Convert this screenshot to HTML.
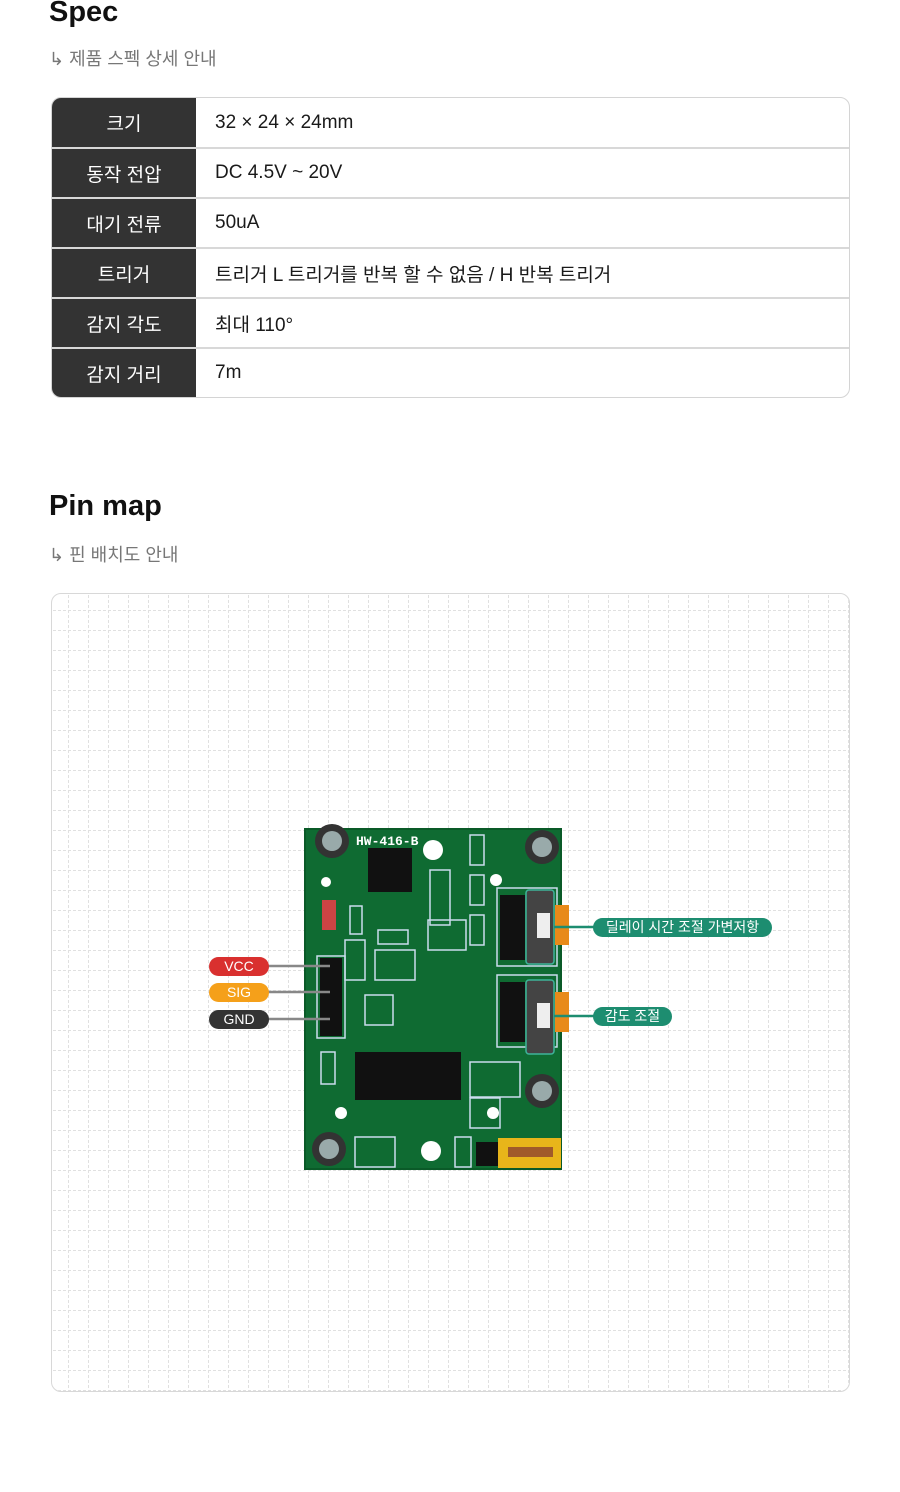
<!DOCTYPE html>
<html><head><meta charset="utf-8"><style>
*{margin:0;padding:0;box-sizing:border-box}
body{width:900px;height:1492px;background:#fff;font-family:"Liberation Sans","Noto Sans CJK KR",sans-serif;position:relative;overflow:hidden;color:#111}
h2{position:absolute;left:49px;font-size:29px;font-weight:700;color:#111}
.sub{position:absolute;left:49px;font-size:18px;color:#777}
table{position:absolute;left:51px;top:97px;width:799px;border-collapse:separate;border-spacing:0;border:1px solid #d4d4d4;border-radius:10px;overflow:hidden}
td{height:50px;font-size:19px;border-top:2px solid #d8d8d8}
tr:first-child td{border-top:none;height:49px}
td.k{width:144px;background:#333;color:#fff;text-align:center}
td.v{padding-left:19px;color:#1a1a1a}
.grid{position:absolute;left:51px;top:593px;width:799px;height:799px;border:1px solid #d8d8d8;border-radius:10px;overflow:hidden}
.pill{position:absolute;height:19px;border-radius:10px;color:#fff;font-size:14px;text-align:center;line-height:19px}
</style></head><body>
<h2 style="top:-4px">Spec</h2>
<div class="sub" style="top:45px">↳ 제품 스펙 상세 안내</div>
<table>
<tr><td class="k">크기</td><td class="v">32 × 24 × 24mm</td></tr>
<tr><td class="k">동작 전압</td><td class="v">DC 4.5V ~ 20V</td></tr>
<tr><td class="k">대기 전류</td><td class="v">50uA</td></tr>
<tr><td class="k">트리거</td><td class="v">트리거 L 트리거를 반복 할 수 없음 / H 반복 트리거</td></tr>
<tr><td class="k">감지 각도</td><td class="v">최대 110°</td></tr>
<tr><td class="k">감지 거리</td><td class="v">7m</td></tr>
</table>
<h2 style="top:490px">Pin map</h2>
<div class="sub" style="top:541px">↳ 핀 배치도 안내</div>
<div class="grid"><svg width="799" height="799">
<defs><pattern id="g" x="16" y="16" width="20" height="20" patternUnits="userSpaceOnUse">
<line x1="0" y1="0.5" x2="20" y2="0.5" stroke="#e0e0e0" stroke-dasharray="3 2"/>
<line x1="0.5" y1="0" x2="0.5" y2="20" stroke="#e0e0e0" stroke-dasharray="3 2"/>
</pattern></defs>
<rect width="799" height="799" fill="url(#g)"/></svg></div>
<svg style="position:absolute;left:0;top:0" width="900" height="1492">
<rect x="305" y="829" width="256" height="340" fill="#0f6b32"/>
<rect x="305" y="829" width="256" height="340" fill="none" stroke="#0a5a28" stroke-width="2"/>
<g fill="#333"><circle cx="332" cy="841" r="17"/><circle cx="542" cy="847" r="17"/><circle cx="542" cy="1091" r="17"/><circle cx="329" cy="1149" r="17"/></g>
<g fill="#9aa"><circle cx="332" cy="841" r="10"/><circle cx="542" cy="847" r="10"/><circle cx="542" cy="1091" r="10"/><circle cx="329" cy="1149" r="10"/></g>
<g fill="#fff"><circle cx="433" cy="850" r="10"/><circle cx="431" cy="1151" r="10"/><circle cx="326" cy="882" r="5"/><circle cx="341" cy="1113" r="6"/><circle cx="493" cy="1113" r="6"/><circle cx="496" cy="880" r="6"/></g>
<text x="356" y="845" fill="#fff" font-size="13" font-weight="700" font-family="Liberation Mono">HW-416-B</text>
<rect x="368" y="848" width="44" height="44" fill="#111"/>
<rect x="355" y="1052" width="106" height="48" fill="#111"/>
<g stroke="#cde" stroke-width="1.5" fill="none">
<rect x="317" y="956" width="28" height="82"/><rect x="497" y="888" width="60" height="78"/><rect x="497" y="975" width="60" height="72"/>
<rect x="430" y="870" width="20" height="55"/><rect x="345" y="940" width="20" height="40"/>
<rect x="470" y="835" width="14" height="30"/><rect x="470" y="875" width="14" height="30"/><rect x="470" y="915" width="14" height="30"/>
<rect x="350" y="906" width="12" height="28"/><rect x="378" y="930" width="30" height="14"/><rect x="375" y="950" width="40" height="30"/><rect x="428" y="920" width="38" height="30"/><rect x="365" y="995" width="28" height="30"/>
<rect x="321" y="1052" width="14" height="32"/><rect x="470" y="1062" width="50" height="35"/><rect x="470" y="1098" width="30" height="30"/><rect x="455" y="1137" width="16" height="30"/><rect x="355" y="1137" width="40" height="30"/>
</g>
<g fill="#111"><rect x="320" y="958" width="22" height="78"/><rect x="476" y="1142" width="22" height="24"/><rect x="500" y="895" width="25" height="65"/><rect x="500" y="982" width="25" height="60"/></g>
<rect x="322" y="900" width="14" height="30" fill="#c44"/>
<rect x="498" y="1138" width="63" height="30" fill="#e8b51a"/><rect x="508" y="1147" width="45" height="10" fill="#a05a2a"/>
<g fill="#e88a1a"><rect x="555" y="905" width="14" height="40"/><rect x="555" y="992" width="14" height="40"/></g>
<g fill="#444" stroke="#3fb39a" stroke-width="1.5"><rect x="526" y="890" width="28" height="74" rx="3"/><rect x="526" y="980" width="28" height="74" rx="3"/></g>
<g fill="#eee"><rect x="537" y="913" width="13" height="25"/><rect x="537" y="1003" width="13" height="25"/></g>
<g stroke="#888" stroke-width="2.5"><line x1="268" y1="966" x2="330" y2="966"/><line x1="268" y1="992" x2="330" y2="992"/><line x1="268" y1="1019" x2="330" y2="1019"/></g>
<g stroke="#1d8d70" stroke-width="2.5"><line x1="554" y1="927" x2="595" y2="927"/><line x1="554" y1="1016" x2="595" y2="1016"/></g>
</svg>
<div class="pill" style="left:209px;top:957px;width:60px;background:#d9302f">VCC</div>
<div class="pill" style="left:209px;top:983px;width:60px;background:#f5a01a">SIG</div>
<div class="pill" style="left:209px;top:1010px;width:60px;background:#333">GND</div>
<div class="pill" style="left:593px;top:918px;width:179px;background:#1d8d70">딜레이 시간 조절 가변저항</div>
<div class="pill" style="left:593px;top:1007px;width:79px;background:#1d8d70">감도 조절</div>
</body></html>
